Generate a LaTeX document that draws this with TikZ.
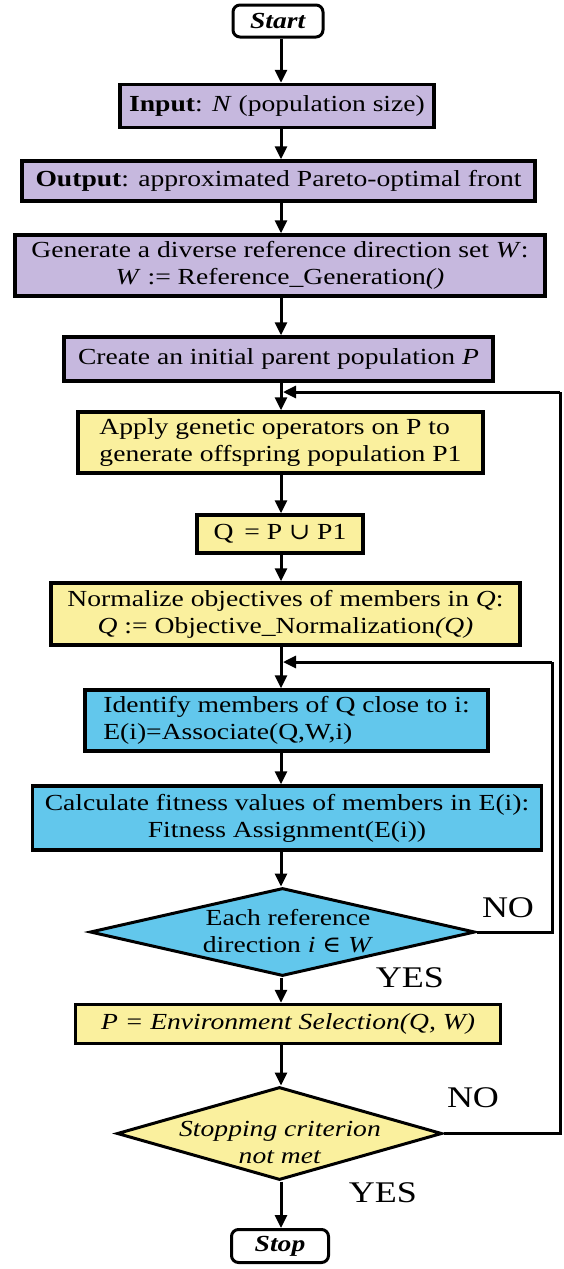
\documentclass[tikz,border=0pt]{standalone}
\usepackage{fontspec}
\setmainfont{Liberation Serif}[FakeStretch=1.2]
\newfontfamily\symf{DejaVu Serif}[FakeStretch=1.1]
\usetikzlibrary{shapes.geometric,arrows.meta}
\definecolor{lav}{RGB}{198,184,222}
\definecolor{ylw}{RGB}{250,240,158}
\definecolor{sky}{RGB}{98,199,236}
\begin{document}
\begin{tikzpicture}[x=1pt,y=-1pt,
  txt/.style={font=\fontsize{23}{27}\selectfont, align=center, inner sep=0pt},
  box/.style={txt, draw=black, line width=3.5pt},
  pbox/.style={box, fill=lav},
  ybox/.style={box, fill=ylw},
  bbox/.style={box, fill=sky},
  term/.style={box, line width=3pt, rounded corners=7pt, fill=white},
  decision/.style={diamond, draw=black, line width=3pt, inner sep=0pt},
  lbl/.style={font=\fontsize{30}{30}\selectfont, inner sep=0pt},
  arr/.style={line width=3pt, -{Triangle[length=13pt,width=12pt]}},
  lp/.style={line width=3pt}
]
\useasboundingbox (0,0) rectangle (564,1269);
\coordinate (ax) at (281,0);

\node[term, minimum width=90pt, minimum height=32pt] (start) at (278,21) {\textbf{\textit{Start}}};
\node[pbox, minimum width=314pt, minimum height=43pt] (input) at (277,106) {\textbf{Input}: \textit{N} (population size)};
\node[pbox, minimum width=513pt, minimum height=40pt] (output) at (278.5,181) {\textbf{Output}: approximated Pareto-optimal front};
\node[pbox, minimum width=530pt, minimum height=61pt] (gen) at (280,265.5) {Generate a diverse reference direction set \textit{W}:\\\textit{W} := Reference\_Generation\textit{()}};
\node[pbox, minimum width=429pt, minimum height=44pt] (create) at (278.5,359) {Create an initial parent population \textit{P}};
\node[ybox, minimum width=405pt, minimum height=61pt, align=left] (apply) at (280.5,442.5) {Apply genetic operators on P to\\generate offspring population P1};
\node[ybox, minimum width=166pt, minimum height=38pt] (q) at (280,534) {Q \,= P {\symf ∪} P1};
\node[ybox, minimum width=469pt, minimum height=62pt] (norm) at (285.5,614) {Normalize objectives of members in \textit{Q}:\\\textit{Q} := Objective\_Normalization\textit{(Q)}};
\node[bbox, minimum width=403pt, minimum height=61pt, align=left] (ident) at (286.5,720.5) {Identify members of Q close to i:\\E(i)=Associate(Q,W,i)};
\node[bbox, minimum width=509pt, minimum height=64pt] (calc) at (287,818) {Calculate fitness values of members in E(i):\\Fitness Assignment(E(i))};
\node[decision, fill=sky, minimum width=385pt, minimum height=88pt] (d1) at (282.5,932) {};
\node[txt] (d1t) at (288,931) {Each reference\\direction \textit{i} {\symf ∈} \textit{W}};
\node[ybox, minimum width=425pt, minimum height=39pt] (env) at (288,1024) {\textit{P = Environment Selection(Q, W)}};
\node[decision, fill=ylw, minimum width=325pt, minimum height=93pt] (d2) at (279.5,1133.5) {};
\node[txt] (d2t) at (280,1142) {\textit{Stopping criterion}\\\textit{not met}};
\node[term, minimum width=97pt, minimum height=33pt] (stop) at (280,1246) {\textbf{\textit{Stop}}};

\node[lbl] (no1) at (508,908) {NO};
\node[lbl] (yes1) at (410,978) {YES};
\node[lbl] (no2) at (473,1098) {NO};
\node[lbl] (yes2) at (383,1193) {YES};

\draw[arr] (start.south -| ax) -- (input.north -| ax);
\draw[arr] (input.south -| ax) -- (output.north -| ax);
\draw[arr] (output.south -| ax) -- (gen.north -| ax);
\draw[arr] (gen.south -| ax) -- (create.north -| ax);
\draw[arr] (create.south -| ax) -- (apply.north -| ax);
\draw[arr] (apply.south -| ax) -- (q.north -| ax);
\draw[arr] (q.south -| ax) -- (norm.north -| ax);
\draw[arr] (norm.south -| ax) -- (ident.north -| ax);
\draw[arr] (ident.south -| ax) -- (calc.north -| ax);
\draw[arr] (calc.south -| ax) -- (d1.north -| ax);
\draw[arr] (d1.south -| ax) -- (env.north -| ax);
\draw[arr] (env.south -| ax) -- (d2.north -| ax);
\draw[arr] (d2.south -| ax) -- (stop.north -| ax);

\coordinate (j1) at (283,392);
\coordinate (o1) at (560,392);
\coordinate (j2) at (283,662);
\coordinate (o2) at (552,662);
\draw[lp] (d2.east) -| (o1);
\draw[arr] (o1) -- (j1);
\draw[lp] (d1.east) -| (o2);
\draw[arr] (o2) -- (j2);
\end{tikzpicture}
\end{document}
